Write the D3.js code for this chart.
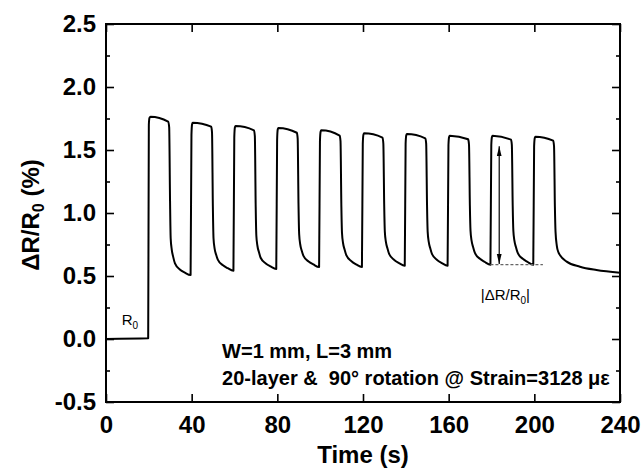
<!DOCTYPE html>
<html>
<head>
<meta charset="utf-8">
<script src="https://cdn.jsdelivr.net/npm/d3@7"></script>
<style>
  body { margin: 0; background: #fff; }
  svg { display: block; font-family: "Liberation Sans", Arial, sans-serif; }
</style>
</head>
<body>
<div id="chart"></div>
<script>
// time (s) and relative resistance change (%)
const timeS = [
  0, 19.7,
  20.0, 20.3, 20.8, 29.0, 29.5, 29.9, 30.2, 30.7, 31.4, 32.2, 34.6, 36.8, 39.5,
  39.9, 40.2, 40.5, 49.1, 49.5, 49.9, 50.2, 50.7, 51.4, 52.2, 54.6, 56.8, 59.5,
  59.9, 60.2, 60.5, 69.1, 69.5, 69.9, 70.2, 70.7, 71.4, 72.2, 74.6, 76.8, 79.5,
  79.9, 80.2, 80.5, 89.1, 89.5, 89.9, 90.2, 90.7, 91.4, 92.2, 94.6, 96.8, 99.5,
  99.9, 100.2, 100.5, 109.1, 109.5, 109.9, 110.2, 110.7, 111.4, 112.2, 114.6, 116.8, 119.5,
  119.9, 120.2, 120.5, 129.1, 129.5, 129.9, 130.2, 130.7, 131.4, 132.2, 134.6, 136.8, 139.5,
  139.9, 140.2, 140.5, 149.1, 149.5, 149.9, 150.2, 150.7, 151.4, 152.2, 154.6, 156.8, 159.5,
  159.9, 160.2, 160.5, 169.1, 169.5, 169.9, 170.2, 170.7, 171.4, 172.2, 174.6, 176.8, 179.5,
  179.9, 180.2, 180.5, 189.1, 189.5, 189.9, 190.2, 190.7, 191.4, 192.2, 194.6, 196.8, 199.5,
  199.9, 200.2, 200.5, 208.8, 209.2, 209.6, 209.9, 210.5, 211.2, 212.0, 215.1, 221.3, 229.0, 240.0
];
const deltaR = [
  0.0, 0.005,
  1.70, 1.755, 1.764, 1.725, 1.68, 1.10, 0.80, 0.71, 0.65, 0.60, 0.55, 0.527, 0.508,
  1.62, 1.705, 1.717, 1.685, 1.64, 1.05, 0.80, 0.72, 0.67, 0.63, 0.585, 0.562, 0.542,
  1.60, 1.68, 1.69, 1.656, 1.61, 1.05, 0.82, 0.74, 0.69, 0.645, 0.60, 0.576, 0.556,
  1.58, 1.665, 1.675, 1.637, 1.59, 1.05, 0.83, 0.75, 0.70, 0.66, 0.615, 0.592, 0.571,
  1.57, 1.645, 1.656, 1.614, 1.57, 1.05, 0.84, 0.76, 0.71, 0.665, 0.617, 0.592, 0.571,
  1.55, 1.622, 1.632, 1.598, 1.55, 1.06, 0.85, 0.77, 0.72, 0.675, 0.627, 0.603, 0.582,
  1.55, 1.617, 1.627, 1.593, 1.55, 1.06, 0.85, 0.77, 0.72, 0.675, 0.627, 0.603, 0.582,
  1.54, 1.604, 1.614, 1.585, 1.54, 1.06, 0.86, 0.78, 0.73, 0.685, 0.636, 0.612, 0.59,
  1.54, 1.604, 1.614, 1.582, 1.54, 1.06, 0.86, 0.78, 0.73, 0.685, 0.636, 0.612, 0.59,
  1.53, 1.596, 1.606, 1.575, 1.53, 1.05, 0.85, 0.74, 0.69, 0.665, 0.614, 0.574, 0.548, 0.526
];

const xTicks = [0, 40, 80, 120, 160, 200, 240];
const yTicks = [-0.5, 0.0, 0.5, 1.0, 1.5, 2.0, 2.5];
const yTickLabels = ["-0.5", "0.0", "0.5", "1.0", "1.5", "2.0", "2.5"];
const yMinorTicks = [-0.25, 0.25, 0.75, 1.25, 1.75, 2.25];

// amplitude marker for one cycle
const ampTime = 183.6, ampLow = 0.595, ampHigh = 1.53;
const baseLine = {t0: 179.5, t1: 204, v: 0.59};

const width = 643, height = 472;
const mLeft = 106, mRight = 620, mTop = 24, mBottom = 402;

const svg = d3.select("#chart").append("svg")
    .attr("width", width)
    .attr("height", height);

const x = d3.scaleLinear().domain([0, 240]).range([mLeft, mRight]);
const y = d3.scaleLinear().domain([-0.5, 2.5]).range([mBottom, mTop]);

const data = timeS.map((t, i) => [t, deltaR[i]]);

const line = d3.line()
    .x(d => x(d[0]))
    .y(d => y(d[1]))
    .curve(d3.curveMonotoneX);

svg.append("path")
    .datum(data)
    .attr("d", line)
    .attr("fill", "none")
    .attr("stroke", "#000")
    .attr("stroke-width", 2)
    .attr("stroke-linejoin", "round");

// axes, ticks inward
const tickFont = g => g.selectAll("text")
    .attr("font-size", 24).attr("font-weight", "bold").attr("fill", "#000")
    .attr("font-family", "'Liberation Sans', Arial, sans-serif");

const xAxis = svg.append("g")
    .attr("transform", `translate(0,${mBottom})`)
    .call(d3.axisBottom(x).tickValues(xTicks).tickSizeInner(-8).tickSizeOuter(0).tickPadding(14));
xAxis.call(tickFont);

const yAxis = svg.append("g")
    .attr("transform", `translate(${mLeft},0)`)
    .call(d3.axisLeft(y).tickValues(yTicks).tickFormat((d, i) => yTickLabels[i])
        .tickSizeInner(-8).tickSizeOuter(0).tickPadding(10));
yAxis.call(tickFont);

svg.append("g")
    .attr("transform", `translate(${mLeft},0)`)
    .call(d3.axisLeft(y).tickValues(yMinorTicks).tickFormat("").tickSizeInner(-4).tickSizeOuter(0));

svg.append("g")
    .attr("transform", `translate(${mRight},0)`)
    .call(d3.axisRight(y).tickValues(yTicks).tickFormat("").tickSizeInner(-8).tickSizeOuter(0));
svg.append("g")
    .attr("transform", `translate(${mRight},0)`)
    .call(d3.axisRight(y).tickValues(yMinorTicks).tickFormat("").tickSizeInner(-4).tickSizeOuter(0));

svg.append("g")
    .attr("transform", `translate(0,${mTop})`)
    .call(d3.axisTop(x).tickValues(xTicks).tickFormat("").tickSizeInner(-8).tickSizeOuter(0));

svg.selectAll(".domain").remove();
svg.selectAll(".tick line").attr("stroke", "#000").attr("stroke-width", 1.6);

svg.append("rect")
    .attr("x", mLeft).attr("y", mTop)
    .attr("width", mRight - mLeft).attr("height", mBottom - mTop)
    .attr("fill", "none").attr("stroke", "#000").attr("stroke-width", 2);

// axis titles
svg.append("text")
    .attr("x", (mLeft + mRight) / 2).attr("y", 463)
    .attr("text-anchor", "middle")
    .attr("font-size", 24).attr("font-weight", "bold")
    .text("Time (s)");

const yl = svg.append("text")
    .attr("transform", `translate(39,${(mTop + mBottom) / 2 + 2}) rotate(-90)`)
    .attr("text-anchor", "middle")
    .attr("font-size", 24).attr("font-weight", "bold");
yl.append("tspan").text("ΔR/R");
yl.append("tspan").attr("font-size", 16).attr("dy", 5).text("0");
yl.append("tspan").attr("dy", -5).text(" (%)");

// annotations
const r0 = svg.append("text")
    .attr("x", x(7.3)).attr("y", y(0.111))
    .attr("font-size", 15);
r0.append("tspan").text("R");
r0.append("tspan").attr("font-size", 10).attr("dy", 4).text("0");

const amp = svg.append("text")
    .attr("x", x(175.0)).attr("y", y(0.31))
    .attr("font-size", 15);
amp.append("tspan").text("|ΔR/R");
amp.append("tspan").attr("font-size", 10).attr("dy", 4).text("0");
amp.append("tspan").attr("dy", -4).text("|");

svg.append("text")
    .attr("x", x(54.2)).attr("y", y(-0.151))
    .attr("font-size", 20).attr("font-weight", "bold")
    .text("W=1 mm, L=3 mm");
svg.append("text")
    .attr("x", x(54.2)).attr("y", y(-0.365))
    .attr("font-size", 20).attr("font-weight", "bold")
    .style("white-space", "pre")
    .text("20-layer &  90° rotation @ Strain=3128 με");

// dashed baseline and double arrow
svg.append("line")
    .attr("x1", x(baseLine.t0)).attr("x2", x(baseLine.t1))
    .attr("y1", y(baseLine.v)).attr("y2", y(baseLine.v))
    .attr("stroke", "#666").attr("stroke-width", 1.3)
    .attr("stroke-dasharray", "3,2");

const defs = svg.append("defs");
defs.append("marker")
    .attr("id", "head")
    .attr("viewBox", "0 0 10 10")
    .attr("refX", 10).attr("refY", 5)
    .attr("markerWidth", 10).attr("markerHeight", 10)
    .attr("markerUnits", "userSpaceOnUse")
    .attr("orient", "auto-start-reverse")
    .append("path")
    .attr("d", "M0,2.6 L10,5 L0,7.4 Z")
    .attr("fill", "#000");

svg.append("line")
    .attr("x1", x(ampTime)).attr("x2", x(ampTime))
    .attr("y1", y(ampLow)).attr("y2", y(ampHigh))
    .attr("stroke", "#000").attr("stroke-width", 1.2)
    .attr("marker-start", "url(#head)")
    .attr("marker-end", "url(#head)");
</script>
</body>
</html>
